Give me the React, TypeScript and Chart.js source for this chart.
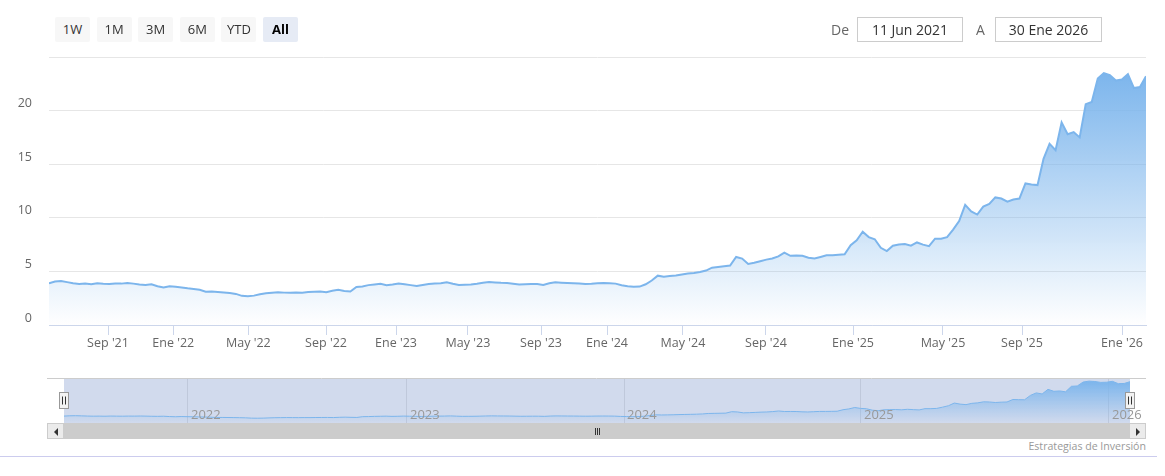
import React, { useEffect, useRef } from 'react';
import { Chart, registerables } from 'chart.js';

Chart.register(...registerables);

const FONT = '"Open Sans", "DejaVu Sans", sans-serif';

// Closing values (ordinal, evenly spaced points from 11 Jun 2021 to 30 Ene 2026)
const values: number[] = [
  3.88, 4.05, 4.1, 4.0, 3.9, 3.83, 3.86, 3.8, 3.9, 3.85,
  3.82, 3.88, 3.86, 3.92, 3.86, 3.78, 3.74, 3.8, 3.62, 3.5,
  3.62, 3.56, 3.5, 3.42, 3.36, 3.28, 3.1, 3.12, 3.08, 3.03,
  2.98, 2.9, 2.72, 2.68, 2.74, 2.86, 2.96, 3.0, 3.05, 3.02,
  3.0, 3.04, 3.02, 3.08, 3.1, 3.12, 3.05, 3.2, 3.28, 3.18,
  3.12, 3.55, 3.6, 3.72, 3.78, 3.85, 3.72, 3.78, 3.88, 3.8,
  3.72, 3.65, 3.74, 3.82, 3.86, 3.9, 3.98, 3.85, 3.74, 3.76,
  3.78, 3.85, 3.94, 4.0, 3.96, 3.93, 3.92, 3.85, 3.78, 3.8,
  3.83, 3.82, 3.73, 3.9, 3.98, 3.95, 3.92, 3.9, 3.86, 3.82,
  3.84, 3.9, 3.92, 3.9, 3.86, 3.7, 3.62, 3.56, 3.58, 3.8,
  4.15, 4.6, 4.5, 4.56, 4.62, 4.72, 4.8, 4.86, 4.95, 5.08,
  5.35, 5.42, 5.48, 5.55, 6.35, 6.2, 5.7, 5.8, 5.95, 6.1,
  6.2, 6.4, 6.75, 6.45, 6.48, 6.45, 6.28, 6.2, 6.35, 6.5,
  6.5, 6.55, 6.6, 7.45, 7.9, 8.7, 8.2, 8.0, 7.2, 6.9,
  7.4, 7.5, 7.55, 7.4, 7.7, 7.5, 7.35, 8.05, 8.05, 8.2,
  8.9, 9.7, 11.2, 10.6, 10.3, 11.05, 11.3, 11.9, 11.8, 11.5,
  11.7, 11.8, 13.2, 13.1, 13.05, 15.5, 16.9, 16.3, 18.9, 17.8,
  18.0, 17.5, 20.6, 20.8, 23.0, 23.5, 23.3, 22.8, 22.9, 23.4,
  22.1, 22.2, 23.2,
];

// Month ticks (position in point index) and labels
const xTickPositions = [9.79, 20.62, 33.07, 45.96, 57.57, 69.51, 81.63, 92.58, 105.18, 118.95, 133.39, 148.32, 161.43, 178.02];
const xTickLabels = ["Sep '21", "Ene '22", "May '22", "Sep '22", "Ene '23", "May '23", "Sep '23", "Ene '24", "May '24", "Sep '24", "Ene '25", "May '25", "Sep '25", "Ene '26"];

const yMin = 0;
const yMax = 25;
const yStep = 5;

const navYearPositions = [21.17, 58.56, 95.61, 136.07, 178.41];
const navYearLabels = ['2022', '2023', '2024', '2025', '2026'];
const navYMax = 24.7;

const rangeButtons = ['1W', '1M', '3M', '6M', 'YTD', 'All'];
const selectedRange = 'All';
const fromLabel = 'De';
const toLabel = 'A';
const fromDate = '11 Jun 2021';
const toDate = '30 Ene 2026';
const creditsText = 'Estrategias de Inversión';

const LINE = '#7cb5ec';

function areaGradient(chart: any) {
  const { ctx, chartArea, scales } = chart;
  if (!chartArea || !scales.y) return 'rgba(124,181,236,0.3)';
  const top = scales.y.getPixelForValue(Math.max(...values));
  const g = ctx.createLinearGradient(0, top, 0, chartArea.bottom);
  g.addColorStop(0, 'rgba(124,181,236,1)');
  g.addColorStop(1, 'rgba(124,181,236,0)');
  return g;
}

function MainChart() {
  const ref = useRef<HTMLCanvasElement | null>(null);
  useEffect(() => {
    if (!ref.current) return;
    const chart = new Chart(ref.current, {
      type: 'line',
      data: {
        datasets: [
          {
            data: values.map((v, i) => ({ x: i, y: v })),
            borderColor: LINE,
            borderWidth: 2,
            pointRadius: 0,
            tension: 0,
            fill: 'origin',
            backgroundColor: (c: any) => areaGradient(c.chart),
          },
        ],
      },
      options: {
        responsive: false,
        animation: false,
        devicePixelRatio: 1,
        layout: { padding: { left: 0, right: 19, top: 57, bottom: 0 } },
        plugins: { legend: { display: false }, tooltip: { enabled: false } },
        scales: {
          x: {
            type: 'linear',
            min: 0,
            max: values.length - 1,
            afterBuildTicks: (s: any) => {
              s.ticks = xTickPositions.map((v) => ({ value: v }));
            },
            afterFit: (s: any) => {
              s.height = 35;
            },
            ticks: {
              autoSkip: false,
              maxRotation: 0,
              minRotation: 0,
              padding: 1,
              color: '#666666',
              font: { family: FONT, size: 12.5 },
              callback: (_v: any, i: number) => xTickLabels[i],
            },
            grid: { drawOnChartArea: false, drawTicks: true, tickLength: 10, color: '#ccd6eb' },
            border: { color: '#ccd6eb' },
          },
          y: {
            min: yMin,
            max: yMax,
            afterFit: (s: any) => {
              s.width = 49;
            },
            ticks: {
              stepSize: yStep,
              padding: 17,
              labelOffset: -7,
              color: '#666666',
              font: { family: FONT, size: 12.5 },
              callback: (v: any) => (v === yMax ? '' : String(v)),
            },
            grid: { color: '#e6e6e6', drawTicks: false },
            border: { display: false },
          },
        },
      },
    });
    return () => chart.destroy();
  }, []);
  return <canvas ref={ref} width={1165} height={360} style={{ position: 'absolute', left: 0, top: 0, width: 1165, height: 360 }} />;
}

function NavigatorChart() {
  const ref = useRef<HTMLCanvasElement | null>(null);
  useEffect(() => {
    if (!ref.current) return;
    const decor = {
      id: 'navDecor',
      beforeDatasetsDraw(chart: any) {
        const { ctx, chartArea } = chart;
        ctx.save();
        ctx.fillStyle = 'rgba(102,133,194,0.3)';
        ctx.fillRect(chartArea.left, chartArea.top, chartArea.right - chartArea.left, chartArea.bottom - chartArea.top);
        ctx.restore();
      },
      afterDraw(chart: any) {
        const { ctx, chartArea, scales } = chart;
        ctx.save();
        ctx.strokeStyle = '#cccccc';
        ctx.lineWidth = 1;
        ctx.beginPath();
        ctx.moveTo(47, chartArea.top - 0.5);
        ctx.lineTo(1146, chartArea.top - 0.5);
        ctx.stroke();
        ctx.fillStyle = '#999999';
        ctx.font = `13px ${FONT}`;
        ctx.textAlign = 'left';
        ctx.textBaseline = 'alphabetic';
        navYearPositions.forEach((p, i) => {
          const x = scales.x.getPixelForValue(p);
          ctx.fillText(navYearLabels[i], x + 3, chartArea.bottom - 4);
        });
        [chartArea.left, chartArea.right].forEach((hx: number) => {
          const x = Math.round(hx) - 4.5;
          const y = chartArea.top + 13.5;
          ctx.fillStyle = '#f2f2f2';
          ctx.strokeStyle = '#999999';
          ctx.fillRect(x, y, 9, 16);
          ctx.strokeRect(x, y, 9, 16);
          ctx.strokeStyle = '#333333';
          ctx.beginPath();
          ctx.moveTo(x + 3, y + 4);
          ctx.lineTo(x + 3, y + 12);
          ctx.moveTo(x + 6, y + 4);
          ctx.lineTo(x + 6, y + 12);
          ctx.stroke();
        });
        ctx.restore();
      },
    };
    const chart = new Chart(ref.current, {
      type: 'line',
      data: {
        datasets: [
          {
            data: values.map((v, i) => ({ x: i, y: v })),
            borderColor: LINE,
            borderWidth: 1,
            pointRadius: 0,
            tension: 0,
            fill: 'origin',
            backgroundColor: (c: any) => areaGradient(c.chart),
          },
        ],
      },
      options: {
        responsive: false,
        animation: false,
        devicePixelRatio: 1,
        layout: { padding: { left: 64, right: 35, top: 9, bottom: 7 } },
        plugins: { legend: { display: false }, tooltip: { enabled: false } },
        scales: {
          x: {
            type: 'linear',
            min: 0,
            max: values.length - 1,
            afterBuildTicks: (s: any) => {
              s.ticks = navYearPositions.map((v) => ({ value: v }));
            },
            afterFit: (s: any) => {
              s.height = 0;
            },
            ticks: { display: false },
            grid: { color: '#e6e6e6', drawTicks: false },
            border: { display: false },
          },
          y: { display: false, min: 0, max: navYMax },
        },
      },
      plugins: [decor],
    });
    return () => chart.destroy();
  }, []);
  return <canvas ref={ref} width={1165} height={60} style={{ position: 'absolute', left: 0, top: 370, width: 1165, height: 60 }} />;
}

function Arrow({ dir }: { dir: 'left' | 'right' }) {
  const s: React.CSSProperties =
    dir === 'left'
      ? { borderTop: '4px solid transparent', borderBottom: '4px solid transparent', borderRight: '4px solid #333' }
      : { borderTop: '4px solid transparent', borderBottom: '4px solid transparent', borderLeft: '4px solid #333' };
  return <div style={{ position: 'absolute', left: 6, top: 4, width: 0, height: 0, ...s }} />;
}

function Scrollbar() {
  const btn: React.CSSProperties = {
    position: 'absolute',
    top: 423,
    width: 17,
    height: 16,
    background: '#ebebeb',
    border: '1px solid #cccccc',
    boxSizing: 'border-box',
  };
  return (
    <>
      <div style={{ position: 'absolute', left: 47, top: 423, width: 1099, height: 16, background: '#f2f2f2', boxSizing: 'border-box' }} />
      <div style={{ position: 'absolute', left: 64, top: 423, width: 1066, height: 16, background: '#cccccc', boxSizing: 'border-box' }} />
      {[-2, 0, 2].map((d) => (
        <div key={d} style={{ position: 'absolute', left: 597 + d, top: 428, width: 1, height: 7, background: '#333333' }} />
      ))}
      <div style={{ ...btn, left: 47 }}>
        <Arrow dir="left" />
      </div>
      <div style={{ ...btn, left: 1129 }}>
        <Arrow dir="right" />
      </div>
    </>
  );
}

export default function App() {
  useEffect(() => {
    document.body.style.margin = '0';
  }, []);
  return (
    <div style={{ position: 'relative', width: 1165, height: 476, background: '#ffffff', fontFamily: FONT, overflow: 'hidden' }}>
      <MainChart />
      <NavigatorChart />
      <Scrollbar />
      {rangeButtons.map((b, i) => {
        const sel = b === selectedRange;
        return (
          <div
            key={b}
            style={{
              position: 'absolute',
              left: 55 + i * 41.6,
              top: 17,
              width: 35,
              height: 25,
              lineHeight: '25px',
              textAlign: 'center',
              background: sel ? '#e6ebf5' : '#f7f7f7',
              color: sel ? '#000000' : '#333333',
              fontWeight: sel ? 700 : 400,
              fontSize: 13,
              borderRadius: 2,
            }}
          >
            {b}
          </div>
        );
      })}
      <div style={{ position: 'absolute', left: 831, top: 17, height: 25, lineHeight: '25px', fontSize: 14, color: '#666666' }}>{fromLabel}</div>
      <div
        style={{
          position: 'absolute', left: 857, top: 17, width: 106, height: 25, lineHeight: '23px', boxSizing: 'border-box',
          border: '1px solid #cccccc', textAlign: 'center', fontSize: 14, color: '#333333',
        }}
      >
        {fromDate}
      </div>
      <div style={{ position: 'absolute', left: 976, top: 17, height: 25, lineHeight: '25px', fontSize: 14, color: '#666666' }}>{toLabel}</div>
      <div
        style={{
          position: 'absolute', left: 995, top: 17, width: 107, height: 25, lineHeight: '23px', boxSizing: 'border-box',
          border: '1px solid #cccccc', textAlign: 'center', fontSize: 14, color: '#333333',
        }}
      >
        {toDate}
      </div>
      <div style={{ position: 'absolute', right: 1165 - 1146, top: 439, fontSize: 10.6, color: '#999999', lineHeight: '14px' }}>{creditsText}</div>
      <div style={{ position: 'absolute', left: 0, top: 456, width: 1157, height: 1, background: '#ccccee' }} />
    </div>
  );
}
